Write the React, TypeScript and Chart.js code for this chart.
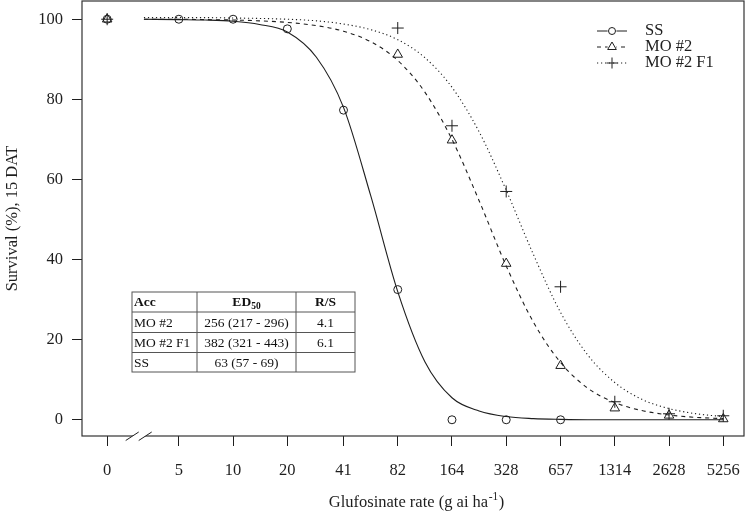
import React, { useEffect, useRef } from 'react';
import { Chart, registerables } from 'chart.js';

Chart.register(...registerables);

// ---- data ----
const tickDoses = [0, 5, 10, 20, 41, 82, 164, 328, 657, 1314, 2628, 5256];
const tickLabels = ['0', '5', '10', '20', '41', '82', '164', '328', '657', '1314', '2628', '5256'];
const yTickValues = [0, 20, 40, 60, 80, 100];

const seriesNames = ['SS', 'MO #2', 'MO #2 F1'];

const ssDoses = [0, 5, 10, 20, 41, 82, 164, 328, 657];
const ssSurvival = [100, 100, 100, 97.6, 77.3, 32.5, 0, 0, 0];
const mo2Doses = [0, 82, 164, 328, 657, 1314, 2628, 5256];
const mo2Survival = [100, 91.2, 69.8, 39, 13.5, 2.9, 1.1, 0.2];
const f1Doses = [0, 82, 164, 328, 657, 1314, 2628, 5256];
const f1Survival = [100, 97.8, 73.4, 57, 33.2, 4.5, 1.5, 1.0];

const curveDoses = [3.2, 5, 7, 10, 14, 20, 29, 41, 58, 82, 116, 164, 232, 328, 464, 657, 929, 1314, 1858, 2628, 3717, 5256];
const ssCurve = [100, 99.9, 99.8, 99.5, 98.7, 96.8, 90.5, 78, 56, 32, 14.5, 5.5, 2.2, 0.8, 0.3, 0.1, 0, 0, 0, 0, 0, 0];
const mo2Curve = [100, 100, 99.9, 99.8, 99.6, 99.2, 98.4, 97, 94.4, 89.7, 81.8, 70, 54.7, 38.4, 24.4, 14.3, 7.9, 4.3, 2.3, 1.2, 0.6, 0.3];
const f1Curve = [100.4, 100.4, 100.4, 100.3, 100.2, 100, 99.6, 98.8, 97.4, 94.9, 90.4, 83, 71.9, 57.3, 41.3, 26.8, 16.2, 9.3, 5.1, 2.8, 1.5, 0.8];

const tableHeader = ['Acc', 'ED', 'R/S'];
const tableRows = [
  ['MO #2', '256 (217 - 296)', '4.1'],
  ['MO #2 F1', '382 (321 - 443)', '6.1'],
  ['SS', '63 (57 - 69)', ''],
];

// ---- display constants ----
const ZERO_POS = 2; // where dose 0 is drawn on the broken log axis
const FONT = "'Liberation Serif', 'Times New Roman', serif";
const INK = '#1e1e1e';
const styles = [
  { dash: [] as number[], point: 'circle', radius: 4 },
  { dash: [4, 4], point: 'triangle', radius: 5.5 },
  { dash: [1.2, 2.8], point: 'cross', radius: 6 },
];

const pos = (d: number) => (d === 0 ? ZERO_POS : d);

function drawMarker(ctx: CanvasRenderingContext2D, kind: string, x: number, y: number, r: number) {
  ctx.beginPath();
  if (kind === 'circle') {
    ctx.arc(x, y, r, 0, Math.PI * 2);
  } else if (kind === 'triangle') {
    let rad = 0;
    ctx.moveTo(x + Math.sin(rad) * r, y - Math.cos(rad) * r);
    rad += (2 * Math.PI) / 3;
    ctx.lineTo(x + Math.sin(rad) * r, y - Math.cos(rad) * r);
    rad += (2 * Math.PI) / 3;
    ctx.lineTo(x + Math.sin(rad) * r, y - Math.cos(rad) * r);
    ctx.closePath();
  } else {
    ctx.moveTo(x - r, y);
    ctx.lineTo(x + r, y);
    ctx.moveTo(x, y - r);
    ctx.lineTo(x, y + r);
  }
  ctx.stroke();
}

const overlay = {
  id: 'overlay',
  beforeDraw(chart: any) {
    const ctx = chart.ctx;
    ctx.save();
    ctx.fillStyle = '#fff';
    ctx.fillRect(0, 0, chart.width, chart.height);
    ctx.restore();
  },
  afterDraw(chart: any) {
    const ctx: CanvasRenderingContext2D = chart.ctx;
    const a = chart.chartArea;
    const xs = chart.scales.x;
    ctx.save();

    // plot box
    ctx.strokeStyle = '#333';
    ctx.lineWidth = 1.2;
    ctx.setLineDash([]);
    ctx.strokeRect(a.left, a.top, a.right - a.left, a.bottom - a.top);

    // axis break
    const p0 = xs.getPixelForValue(ZERO_POS);
    const p5 = xs.getPixelForValue(5);
    const cx = p0 + 0.44 * (p5 - p0);
    const yb = a.bottom;
    ctx.fillStyle = '#fff';
    ctx.beginPath();
    ctx.moveTo(cx - 13, yb + 4.5);
    ctx.lineTo(cx, yb - 4);
    ctx.lineTo(cx + 13, yb - 4);
    ctx.lineTo(cx, yb + 4.5);
    ctx.closePath();
    ctx.fill();
    ctx.strokeStyle = INK;
    ctx.lineWidth = 1;
    ctx.beginPath();
    ctx.moveTo(cx - 13, yb + 4.5);
    ctx.lineTo(cx, yb - 4);
    ctx.moveTo(cx, yb + 4.5);
    ctx.lineTo(cx + 13, yb - 4);
    ctx.stroke();

    // axis titles
    ctx.fillStyle = INK;
    ctx.font = `16.5px ${FONT}`;
    ctx.textBaseline = 'middle';
    ctx.textAlign = 'center';
    ctx.save();
    ctx.translate(13, (a.top + a.bottom) / 2);
    ctx.rotate(-Math.PI / 2);
    ctx.fillText('Survival (%), 15 DAT', 0, 0);
    ctx.restore();

    const t1 = 'Glufosinate rate (g ai ha';
    const sup = '-1';
    const t2 = ')';
    ctx.font = `16.5px ${FONT}`;
    const w1 = ctx.measureText(t1).width;
    const w3 = ctx.measureText(t2).width;
    ctx.font = `11.5px ${FONT}`;
    const w2 = ctx.measureText(sup).width;
    const total = w1 + w2 + w3;
    const tx = (a.left + a.right) / 2 - total / 2 + 3;
    const ty = 503;
    ctx.textAlign = 'left';
    ctx.font = `16.5px ${FONT}`;
    ctx.fillText(t1, tx, ty);
    ctx.font = `11.5px ${FONT}`;
    ctx.fillText(sup, tx + w1 + 0.5, ty - 6);
    ctx.font = `16.5px ${FONT}`;
    ctx.fillText(t2, tx + w1 + w2 + 1, ty);

    // legend
    const lx0 = 597, lx1 = 627, lmx = 612, ltx = 645;
    const lys = [31, 47, 63];
    seriesNames.forEach((name, i) => {
      const y = lys[i];
      const st = styles[i];
      ctx.strokeStyle = INK;
      ctx.lineWidth = 1;
      ctx.setLineDash(st.dash);
      ctx.beginPath();
      ctx.moveTo(lx0, y);
      ctx.lineTo(lx1, y);
      ctx.stroke();
      ctx.setLineDash([]);
      if (st.point !== 'cross') {
        ctx.fillStyle = '#fff';
        ctx.beginPath();
        ctx.arc(lmx, y, 4.5, 0, Math.PI * 2);
        ctx.fill();
      }
      drawMarker(ctx, st.point, lmx, y, st.radius - 0.5);
      ctx.fillStyle = INK;
      ctx.font = `16.5px ${FONT}`;
      ctx.textAlign = 'left';
      ctx.textBaseline = 'middle';
      ctx.fillText(name, ltx, y);
    });

    // ED50 table
    const colX = [132, 197, 296, 355];
    const rowY = [292, 312, 332.5, 352.5, 372];
    ctx.strokeStyle = '#555';
    ctx.lineWidth = 1;
    ctx.setLineDash([]);
    ctx.strokeRect(colX[0], rowY[0], colX[3] - colX[0], rowY[4] - rowY[0]);
    ctx.beginPath();
    for (let i = 1; i < 3; i++) {
      ctx.moveTo(colX[i], rowY[0]);
      ctx.lineTo(colX[i], rowY[4]);
    }
    for (let j = 1; j < 4; j++) {
      ctx.moveTo(colX[0], rowY[j]);
      ctx.lineTo(colX[3], rowY[j]);
    }
    ctx.stroke();

    ctx.fillStyle = '#111';
    ctx.textBaseline = 'middle';
    const hy = (rowY[0] + rowY[1]) / 2 + 1;
    ctx.font = `bold 13.5px ${FONT}`;
    ctx.textAlign = 'left';
    ctx.fillText(tableHeader[0], colX[0] + 2, hy);
    ctx.textAlign = 'center';
    ctx.fillText(tableHeader[2], (colX[2] + colX[3]) / 2, hy);
    const edW = ctx.measureText(tableHeader[1]).width;
    ctx.font = `bold 9.5px ${FONT}`;
    const subW = ctx.measureText('50').width;
    const edX = (colX[1] + colX[2]) / 2 - (edW + subW) / 2;
    ctx.textAlign = 'left';
    ctx.font = `bold 13.5px ${FONT}`;
    ctx.fillText(tableHeader[1], edX, hy);
    ctx.font = `bold 9.5px ${FONT}`;
    ctx.fillText('50', edX + edW, hy + 3.5);

    ctx.font = `13.5px ${FONT}`;
    tableRows.forEach((row, j) => {
      const y = (rowY[j + 1] + rowY[j + 2]) / 2 + 1;
      ctx.textAlign = 'left';
      ctx.fillText(row[0], colX[0] + 2, y);
      ctx.textAlign = 'center';
      ctx.fillText(row[1], (colX[1] + colX[2]) / 2, y);
      ctx.fillText(row[2], (colX[2] + colX[3]) / 2, y);
    });

    ctx.restore();
  },
};

export default function App() {
  const ref = useRef<HTMLCanvasElement | null>(null);

  useEffect(() => {
    const canvas = ref.current;
    if (!canvas) return;

    const curve = (vals: number[], i: number) => ({
      type: 'line' as const,
      data: curveDoses.map((d, k) => ({ x: d, y: vals[k] })),
      borderColor: INK,
      borderWidth: 1.1,
      borderDash: styles[i].dash,
      pointRadius: 0,
      fill: false,
      cubicInterpolationMode: 'monotone' as const,
      order: 2,
    });
    const pts = (doses: number[], vals: number[], i: number) => ({
      type: 'scatter' as const,
      data: doses.map((d, k) => ({ x: pos(d), y: vals[k] })),
      showLine: false,
      pointStyle: styles[i].point,
      pointRadius: styles[i].radius,
      pointBorderColor: INK,
      pointBackgroundColor: 'rgba(0,0,0,0)',
      pointBorderWidth: 1,
      order: 1,
    });

    const chart = new Chart(canvas, {
      type: 'line',
      data: {
        datasets: [
          curve(ssCurve, 0),
          curve(mo2Curve, 1),
          curve(f1Curve, 2),
          pts(ssDoses, ssSurvival, 0),
          pts(mo2Doses, mo2Survival, 1),
          pts(f1Doses, f1Survival, 2),
        ] as any,
      },
      options: {
        responsive: false,
        animation: false,
        devicePixelRatio: 1,
        layout: { autoPadding: false, padding: { left: 0, top: 1, right: 5, bottom: 0 } },
        plugins: { legend: { display: false }, tooltip: { enabled: false } },
        scales: {
          x: {
            type: 'logarithmic',
            min: 1.45,
            max: 6850,
            afterBuildTicks: (s: any) => {
              s.ticks = tickDoses.map((d) => ({ value: pos(d) }));
            },
            afterFit: (s: any) => {
              s.height = 81;
              s.paddingLeft = 0;
              s.paddingRight = 0;
            },
            grid: { drawOnChartArea: false, drawTicks: true, tickLength: 10, tickColor: INK, lineWidth: 1 },
            border: { display: false },
            ticks: {
              autoSkip: false,
              maxRotation: 0,
              minRotation: 0,
              padding: 15,
              color: INK,
              font: { family: FONT, size: 16.5 },
              callback: (_v: any, i: number) => tickLabels[i],
            },
          },
          y: {
            type: 'linear',
            min: -4.05,
            max: 104.55,
            afterBuildTicks: (s: any) => {
              s.ticks = yTickValues.map((v) => ({ value: v }));
            },
            afterFit: (s: any) => {
              s.width = 82;
              s.paddingTop = 0;
              s.paddingBottom = 0;
            },
            grid: { drawOnChartArea: false, drawTicks: true, tickLength: 10, tickColor: INK, lineWidth: 1 },
            border: { display: false },
            ticks: {
              padding: 9,
              color: INK,
              font: { family: FONT, size: 16.5 },
              callback: (v: any) => String(v),
            },
          },
        },
      } as any,
      plugins: [overlay],
    });

    return () => chart.destroy();
  }, []);

  return (
    <div style={{ position: 'absolute', left: 0, top: 0, width: 749, height: 517, background: '#fff' }}>
      <canvas ref={ref} width={749} height={517} style={{ display: 'block', width: 749, height: 517 }} />
    </div>
  );
}
